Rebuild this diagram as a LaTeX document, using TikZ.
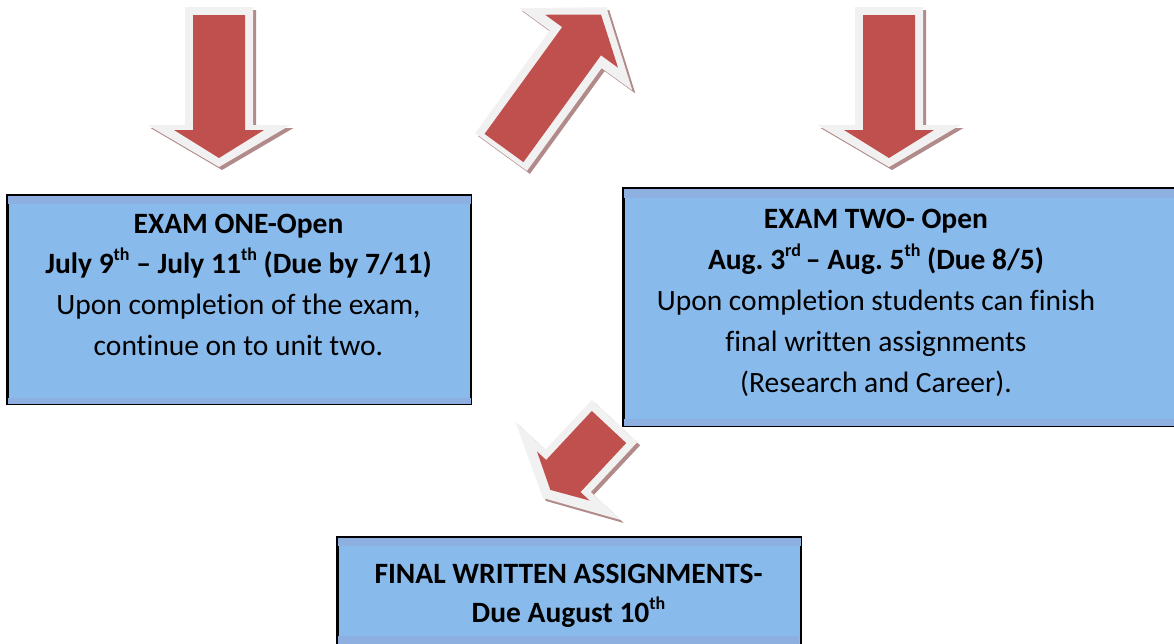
\documentclass[tikz,border=0pt]{standalone}
\usepackage{fontspec}
\setmainfont{Carlito}[Ligatures={NoCommon}]
\frenchspacing
\definecolor{arrred}{RGB}{192,80,77}
\definecolor{arrgrey}{RGB}{241,241,241}
\definecolor{arrshadow}{RGB}{178,138,138}
\definecolor{boxfill}{RGB}{137,186,236}
\definecolor{boxband}{RGB}{141,176,224}
\newcommand\arrpath[5]{(#1,-#2) -- (#3,-#2) -- (#3,-#4) -- (#5,0) -- (#3,#4) -- (#3,#2) -- (#1,#2) -- cycle}
\newcommand\supx[1]{\raisebox{0.42em}{\fontsize{18}{18}\selectfont #1}}
\tikzset{
  boxstyle/.style={draw=black, line width=1.6pt, fill=boxfill, inner sep=0, anchor=north west},
  txt/.style={font=\fontsize{29.5}{34}\selectfont, anchor=base, inner sep=0},
  btxt/.style={font=\fontsize{29.5}{34}\selectfont\bfseries, anchor=base, inner sep=0},
}
\begin{document}
\begin{tikzpicture}[x=1pt,y=-1pt]
\useasboundingbox (0,0) rectangle (1174,643);
\fill[white] (0,0) rectangle (1174,643);

% ---- arrow 1 (down, left)
\begin{scope}[shift={(222,18)},rotate=-90]
  \fill[arrshadow] \arrpath{-8}{34}{110}{71.5}{152};
\end{scope}
\begin{scope}[shift={(219,15)},rotate=-90]
  \fill[arrgrey] \arrpath{-8}{34}{110}{71.5}{152};
  \fill[arrred] \arrpath{0}{26}{115}{45}{143};
\end{scope}

% ---- arrow 3 (down, right)
\begin{scope}[shift={(892,18)},rotate=-90]
  \fill[arrshadow] \arrpath{-8}{34}{110}{71.5}{152};
\end{scope}
\begin{scope}[shift={(889,15)},rotate=-90]
  \fill[arrgrey] \arrpath{-8}{34}{110}{71.5}{152};
  \fill[arrred] \arrpath{0}{26}{115}{45}{143};
\end{scope}

% ---- arrow 2 (up-right)
\begin{scope}[shift={(507,151)},rotate=54]
  \fill[arrshadow] \arrpath{-5}{32}{122}{70}{174};
\end{scope}
\begin{scope}[shift={(504,148)},rotate=54]
  \fill[arrgrey] \arrpath{-5}{32}{122}{70}{174};
  \fill[arrred] \arrpath{0}{24}{132}{45}{165};
\end{scope}

% ---- arrow 4 (down-left)
\begin{scope}[shift={(612,430)},rotate=-133]
  \fill[arrshadow] \arrpath{-8}{31}{60}{72}{97};
\end{scope}
\begin{scope}[shift={(609,427)},rotate=-133]
  \fill[arrgrey] \arrpath{-8}{31}{60}{72}{97};
  \fill[arrred] \arrpath{0}{23.5}{67}{36}{86};
\end{scope}

% ---- box 1
\node[boxstyle, minimum width=463, minimum height=208] (box1) at (7,195) {};
\fill[boxband] ([xshift=0.8pt,yshift=-0.8pt]box1.north west) rectangle ([xshift=-0.8pt,yshift=-9pt]box1.north east);
\fill[boxband] ([xshift=0.8pt,yshift=0.8pt]box1.south west) rectangle ([xshift=-0.8pt,yshift=7pt]box1.south east);
\draw[line width=1.6pt] (box1.north west) rectangle (box1.south east);
\node[btxt] (b1l1) at (238.5,233) {EXAM ONE-Open};
\node[btxt] (b1l2) at (238.5,273) {July 9\supx{th} – July 11\supx{th} (Due by 7/11)};
\node[txt] (b1l3) at (238.5,314) {Upon completion of the exam,};
\node[txt] (b1l4) at (238.5,355) {continue on to unit two.};

% ---- box 2
\node[boxstyle, minimum width=560, minimum height=237] (box2) at (623,188) {};
\fill[boxband] ([xshift=0.8pt,yshift=-0.8pt]box2.north west) rectangle ([xshift=-0.8pt,yshift=-10pt]box2.north east);
\fill[boxband] ([xshift=0.8pt,yshift=0.8pt]box2.south west) rectangle ([xshift=-0.8pt,yshift=8pt]box2.south east);
\draw[line width=1.6pt] (box2.north west) rectangle (box2.south east);
\node[btxt] (b2l1) at (876,228) {EXAM TWO- Open};
\node[btxt] (b2l2) at (876,269) {Aug. 3\supx{rd}\,– Aug. 5\supx{th} (Due 8/5)};
\node[txt] (b2l3) at (876,310) {Upon completion students can finish};
\node[txt] (b2l4) at (876,351) {final written assignments};
\node[txt] (b2l5) at (876,392) {(Research and Career).};

% ---- box 3
\node[boxstyle, minimum width=463, minimum height=115] (box3) at (337,537) {};
\fill[boxband] ([xshift=0.8pt,yshift=-0.8pt]box3.north west) rectangle ([xshift=-0.8pt,yshift=-9pt]box3.north east);
\fill[boxband] (338,636) rectangle (799,652);
\draw[line width=1.6pt] (box3.north west) rectangle (box3.south east);
\node[btxt] (b3l1) at (568.5,583) {FINAL WRITTEN ASSIGNMENTS-};
\node[btxt] (b3l2) at (568.5,622) {Due August 10\supx{th}};
\end{tikzpicture}
\end{document}
